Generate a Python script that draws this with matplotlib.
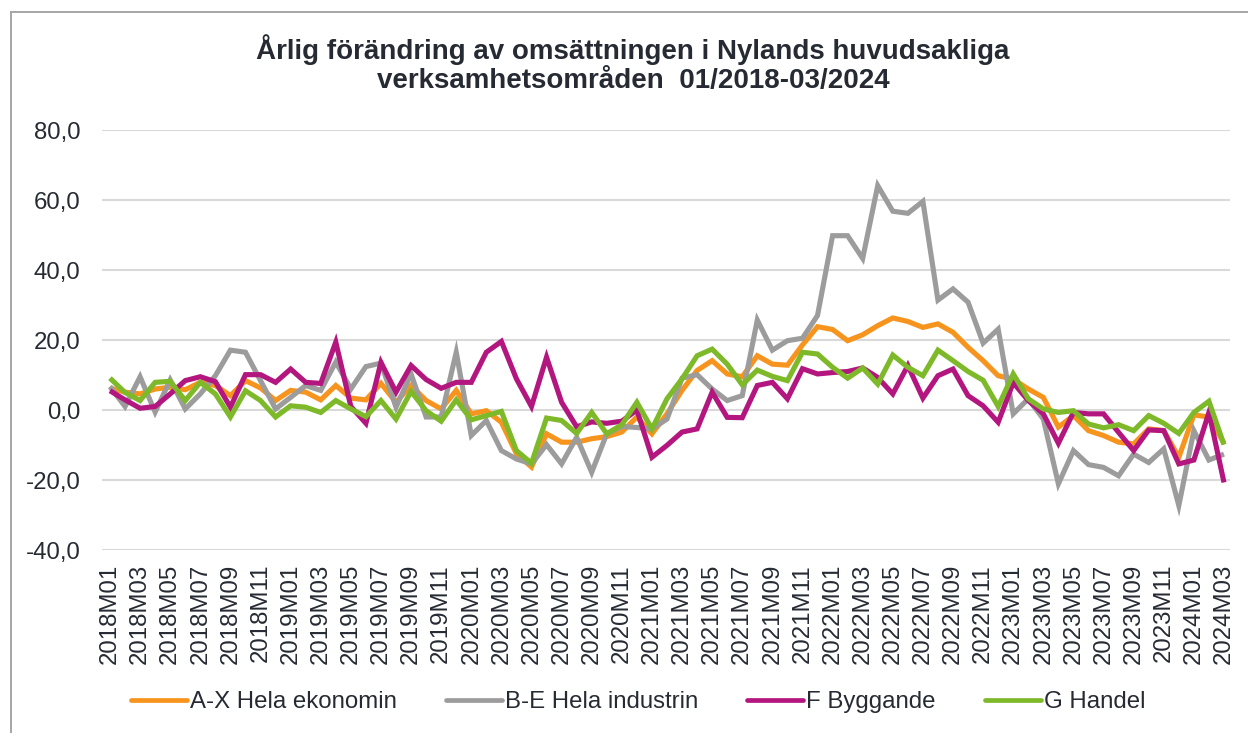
import matplotlib
matplotlib.use("Agg")
import matplotlib.pyplot as plt
from matplotlib.lines import Line2D

plt.rcParams['font.family'] = ['Liberation Sans', 'DejaVu Sans']

# ---- data -------------------------------------------------------------
years = [2018, 2019, 2020, 2021, 2022, 2023, 2024]
months = [f"{y}M{m:02d}" for y in years for m in range(1, 13)][:75]

ax_hela_ekonomin = [6.3, 5.1, 4.6, 6.0, 6.5, 5.8, 7.9, 7.0, 4.1, 8.4, 6.3, 2.7,
                    5.6, 5.1, 2.9, 7.0, 3.4, 2.9, 7.6, 2.2, 7.0, 2.7, 0.3, 5.6,
                    -1.1, -0.2, -3.5, -12.5, -16.3, -6.8, -9.2, -9.2, -8.2, -7.6, -6.3, -2.0,
                    -6.8, -1.1, 5.6, 11.3, 14.1, 10.3, 9.5, 15.5, 13.1, 12.8, 18.6, 23.8,
                    23.0, 19.8, 21.5, 24.1, 26.3, 25.3, 23.6, 24.6, 22.2, 17.9, 14.1, 9.8,
                    8.8, 6.0, 3.6, -4.9, -1.6, -5.9, -7.3, -9.2, -9.7, -5.4, -5.9, -13.5,
                    -1.4, -2.0, -9.5]

be_hela_industrin = [6.7, 1.0, 9.5, -0.6, 8.6, 0.3, 4.6, 9.8, 17.1, 16.5, 8.4, 0.3,
                     3.6, 7.0, 5.6, 13.7, 6.0, 12.4, 13.4, 0.8, 10.3, -2.0, -2.0, 16.5,
                     -7.3, -3.0, -11.6, -14.0, -15.4, -9.9, -15.4, -7.8, -17.8, -6.8, -4.7, -5.0,
                     -5.4, -2.6, 9.1, 10.1, 6.0, 2.7, 4.1, 25.7, 17.1, 19.8, 20.5, 27.0,
                     49.8, 49.8, 43.3, 64.1, 56.8, 56.2, 59.6, 31.4, 34.6, 30.8, 19.1, 23.1,
                     -1.1, 3.2, -2.6, -21.1, -11.6, -15.6, -16.4, -18.8, -12.6, -15.0, -11.1, -27.3,
                     -5.9, -14.3, -12.6]

f_byggande = [5.5, 2.9, 0.5, 1.0, 4.6, 8.4, 9.5, 8.1, 0.8, 10.1, 10.1, 7.9,
              11.7, 7.9, 7.6, 19.4, 1.0, -3.8, 13.6, 5.1, 12.7, 8.7, 6.2, 7.9,
              7.9, 16.5, 19.6, 8.9, 1.0, 15.1, 2.2, -4.8, -3.4, -3.8, -3.2, 0.0,
              -13.5, -10.1, -6.3, -5.4, 5.1, -2.1, -2.2, 7.0, 7.9, 3.2, 11.8, 10.3,
              10.7, 11.0, 12.0, 9.3, 4.6, 12.7, 3.4, 9.8, 11.7, 4.1, 1.2, -3.5,
              7.8, 2.7, -1.1, -9.5, -0.7, -1.1, -1.1, -6.4, -11.6, -5.7, -5.9, -15.4,
              -14.3, -0.7, -20.7]

g_handel = [9.1, 5.0, 2.7, 7.9, 8.2, 2.7, 7.9, 4.6, -2.0, 5.5, 2.7, -2.0,
            1.2, 0.8, -0.7, 2.7, 0.3, -1.9, 2.7, -2.6, 5.3, -0.2, -3.2, 2.9,
            -2.8, -1.6, -0.4, -11.6, -15.2, -2.3, -3.0, -6.7, -0.7, -6.8, -4.2, 2.2,
            -5.4, 3.2, 8.9, 15.5, 17.4, 13.1, 7.2, 11.4, 9.6, 8.4, 16.5, 16.0,
            12.2, 9.1, 12.0, 7.4, 15.7, 12.2, 9.8, 17.1, 14.1, 11.0, 8.5, 1.0,
            10.3, 3.2, 0.3, -0.7, -0.2, -4.0, -5.1, -4.2, -5.9, -1.6, -3.8, -6.7,
            -0.7, 2.5, -9.9]

series_labels = ["A-X Hela ekonomin", "B-E Hela industrin", "F Byggande", "G Handel"]
series_colors = ["#F7941D", "#9C9C9C", "#B3177F", "#7DB928"]
y_ticks = [-40, -20, 0, 20, 40, 60, 80]
title = "Årlig förändring av omsättningen i Nylands huvudsakliga\nverksamhetsområden  01/2018-03/2024"

# ---- figure -------------------------------------------------------------
W, H = 1248, 733
fig = plt.figure(figsize=(W / 100, H / 100), dpi=100)
ax = fig.add_axes([102 / W, 1 - 550 / H, (1230 - 102) / W, (550 - 130) / H])

text_color = "#262B33"
fs = 17.3
x = list(range(len(months)))
for vals, lab, col in zip([ax_hela_ekonomin, be_hela_industrin, f_byggande, g_handel],
                          series_labels, series_colors):
    ax.plot(x, vals, color=col, lw=3.7, label=lab, solid_joinstyle='miter',
            solid_capstyle='butt')

ax.set_ylim(-40, 80)
ax.set_xlim(-0.53, 74.4)
ax.set_yticks(y_ticks)
ax.set_yticklabels([f"{v:.1f}".replace('.', ',') for v in y_ticks])
ax.set_xticks(x[::2])
ax.set_xticklabels(months[::2], rotation=90)
ax.tick_params(axis='y', length=0, pad=15.6, labelsize=fs, labelcolor=text_color)
ax.tick_params(axis='x', length=0, pad=10, labelsize=fs, labelcolor=text_color)
for s in ax.spines.values():
    s.set_visible(False)
ax.grid(axis='y', color="#D9D9D9", lw=1.5)
ax.set_axisbelow(True)

fig.text(633 / W, 1 - 64 / H, title, ha='center', va='center', fontsize=20,
         fontweight='bold', color=text_color, linespacing=1.17)

leg = fig.legend(loc='center', bbox_to_anchor=(638 / W, 1 - 702 / H), ncol=4,
                 frameon=False, fontsize=fs, handlelength=2.33, handletextpad=0.12,
                 columnspacing=2.05, labelcolor=text_color)
for h in leg.get_lines():
    h.set_linewidth(3.4)
    h.set_solid_capstyle('round')

# outer border (left and top visible)
fig.add_artist(Line2D([10.5 / W, 10.5 / W], [0, 1 - 12 / H], transform=fig.transFigure,
                      color="#A6A6A6", lw=1.4))
fig.add_artist(Line2D([10.5 / W, 1], [1 - 12 / H, 1 - 12 / H], transform=fig.transFigure,
                      color="#A6A6A6", lw=1.4))

fig.savefig("out.png", dpi=100)
